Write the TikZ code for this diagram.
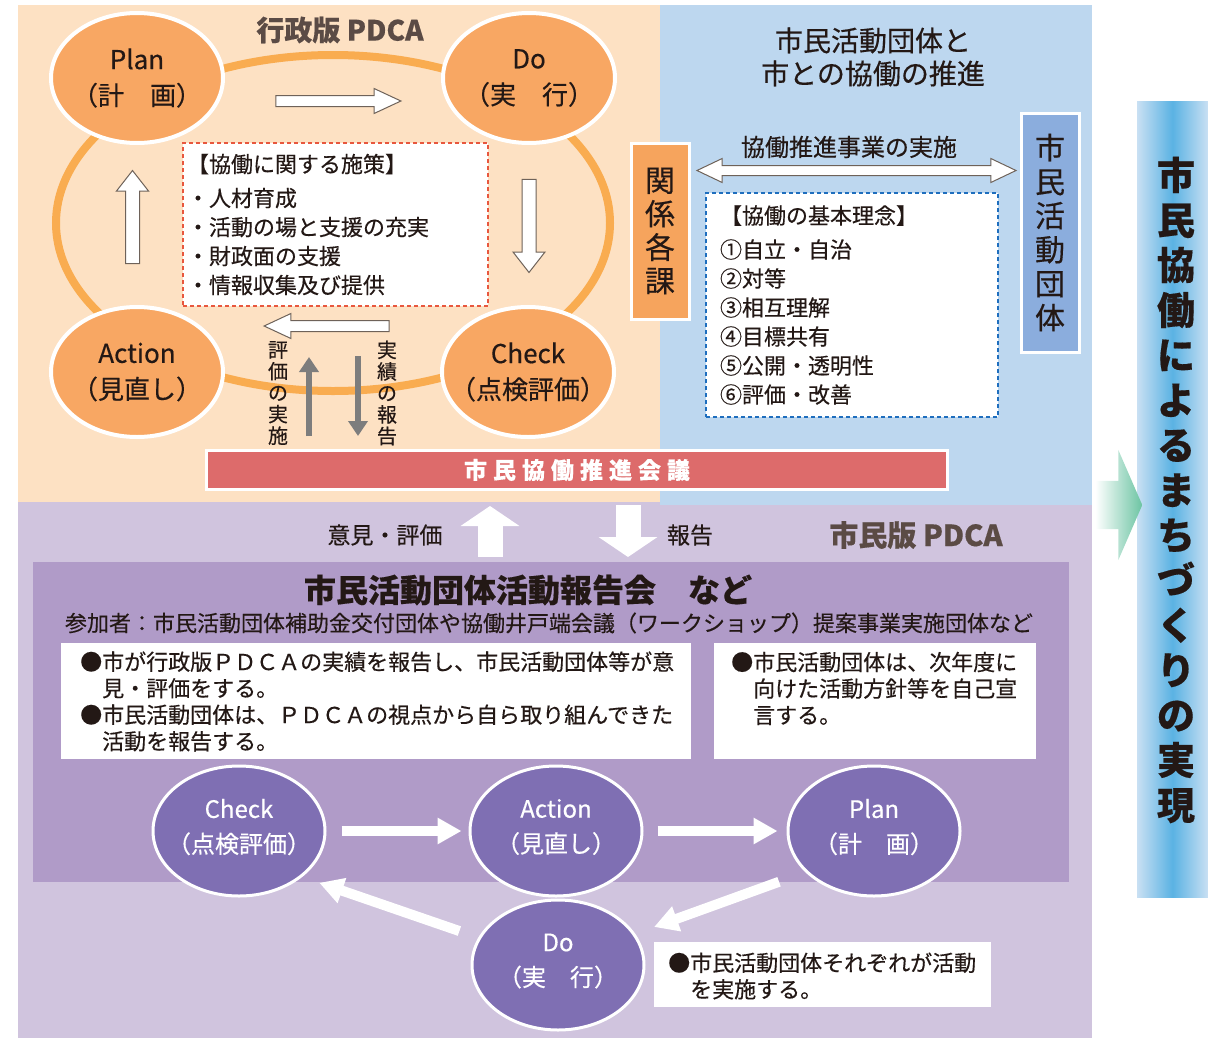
\documentclass[tikz,border=0pt]{standalone}
\usepackage{fontspec}
\setmainfont{Noto Sans CJK JP}[FakeBold=0.4]
\usetikzlibrary{shapes.geometric,shapes.arrows,arrows.meta}

\definecolor{peach}{HTML}{FDE1C3}
\definecolor{skyblue}{HTML}{BDD7EF}
\definecolor{lavender}{HTML}{D0C4DE}
\definecolor{purplebox}{HTML}{B09BC8}
\definecolor{purplenode}{HTML}{7F6FB3}
\definecolor{orangenode}{HTML}{F8A763}
\definecolor{ringorange}{HTML}{F9AC50}
\definecolor{redbar}{HTML}{DD6B6B}
\definecolor{kankei}{HTML}{F6A45D}
\definecolor{dantaiblue}{HTML}{8BADDD}
\definecolor{barblue}{HTML}{5AB2E3}
\definecolor{barlight}{HTML}{C9E0F3}
\definecolor{tealarrow}{HTML}{6CC4A3}
\definecolor{arrowgray}{HTML}{7D7D7D}
\definecolor{arrowline}{HTML}{6E6259}
\definecolor{reddash}{HTML}{E8573E}
\definecolor{bluedash}{HTML}{1E6EBE}
\definecolor{ink}{HTML}{231815}
\definecolor{titleink}{HTML}{5B4B45}

\newcommand{\barsp}{\hspace{6pt}}

\begin{document}
\begin{tikzpicture}[x=1pt,y=-1pt,text=ink]
	\def \toprow{78}
	\def \lowrow{372}
	\def \cyclerow{831}
	\tikzstyle{o-node}=[ellipse,draw=white,line width=4,fill=orangenode,minimum width=172,minimum height=130,inner sep=0pt]
	\tikzstyle{p-node}=[ellipse,draw=white,line width=3,fill=purplenode,minimum width=172,minimum height=130,inner sep=0pt]
	\tikzstyle{o-text}=[align=center,font=\fontsize{26}{36}\selectfont]
	\tikzstyle{p-text}=[align=center,text=white,font=\fontsize{24}{35}\selectfont]
	\tikzstyle{hollow}=[single arrow,draw=arrowline,fill=white,line width=1,inner sep=5pt,minimum width=24,single arrow head extend=7,single arrow tip angle=50]
	\tikzstyle{hollow-v}=[single arrow,draw=arrowline,fill=white,line width=1,inner sep=6.5pt,minimum width=31,single arrow head extend=9,single arrow tip angle=76]
	\tikzstyle{grayarrow}=[draw=arrowgray,line width=6,-{Triangle[length=15pt,width=19pt]}]
	\tikzstyle{bigarrow}=[draw=white,line width=25,-{Triangle[length=20pt,width=58pt]}]
	\tikzstyle{flowarrow}=[draw=white,line width=10,-{Triangle[length=24pt,width=25pt]}]
	\tikzstyle{notebox}=[fill=white,inner sep=0pt]
	\tikzstyle{note}=[anchor=west,align=left,inner sep=0pt,font=\fontsize{22}{26.5}\selectfont]
	\tikzstyle{vtext}=[align=center,inner sep=0pt]
	\tikzstyle{dashbox}=[dash pattern=on 4pt off 3pt,line width=1.5,fill=white,align=left,font=\fontsize{22}{29}\selectfont]

	\useasboundingbox (0,0) rectangle (1208,1039);

	% backgrounds
	\fill[lavender] (18,502) rectangle (1092,1038);
	\fill[peach] (18,5) rectangle (660,502);
	\fill[skyblue] (660,5) rectangle (1092,505);

	% administration PDCA
	\draw[ringorange,line width=8] (333,223) ellipse [x radius=277,y radius=168];
	\node[font=\fontsize{28}{30}\selectfont\bfseries,text=titleink] (gyosei) at (340,30) {行政版 PDCA};

	\node[o-node] (plan) at (137,\toprow) {};
	\node[o-node] (do) at (529,\toprow) {};
	\node[o-node] (action) at (137,\lowrow) {};
	\node[o-node] (check) at (528,\lowrow) {};
	\node[o-text] (plan-t) at (plan) {Plan\\（計　画）};
	\node[o-text] (do-t) at (do) {Do\\（実　行）};
	\node[o-text] (action-t) at (action) {Action\\（見直し）};
	\node[o-text] (check-t) at (check) {Check\\（点検評価）};

	\node[hollow,minimum height=125] (plan-do) at (332.5,101) {};
	\node[hollow-v,minimum height=93,shape border rotate=270] (do-check) at (529,221.5) {};
	\node[hollow,minimum height=125,shape border rotate=180] (check-action) at (332.5,326) {};
	\node[hollow-v,minimum height=93,shape border rotate=90] (action-plan) at (132.5,221.5) {};

	\node[dashbox,draw=reddash,minimum height=163,text width=297,inner xsep=4] (shisaku) at (335.5,224.5) {【協働に関する施策】\\[5pt]・人材育成\\・活動の場と支援の充実\\・財政面の支援\\・情報収集及び提供};

	\coordinate (eval-foot) at (309,436);
	\coordinate (eval-tip) at (309,357);
	\coordinate (report-foot) at (358,356);
	\coordinate (report-tip) at (358,436);
	\draw[grayarrow] (eval-foot) -- (eval-tip);
	\draw[grayarrow] (report-foot) -- (report-tip);
	\node[vtext,font=\fontsize{20}{21.5}\selectfont] (eval-l) at (278,393) {評\\価\\の\\実\\施};
	\node[vtext,font=\fontsize{20}{21.5}\selectfont] (report-l) at (387,393) {実\\績\\の\\報\\告};

	\node[draw=white,line width=3,fill=redbar,minimum width=741,minimum height=39,inner sep=0pt,text=white,font=\fontsize{23}{25}\selectfont\bfseries] (kaigi) at (577,470) {市\barsp 民\barsp 協\barsp 働\barsp 推\barsp 進\barsp 会\barsp 議};

	% cooperation
	\node[align=center,font=\fontsize{28}{33}\selectfont] (suishin) at (873,57) {市民活動団体と\\市との協働の推進};
	\node[draw=white,line width=3,fill=kankei,minimum width=58,minimum height=176,inner sep=0pt,align=center,font=\fontsize{30}{33.5}\selectfont] (kankei) at (660,231) {関\\係\\各\\課};
	\node[draw=white,line width=3,fill=dantaiblue,minimum width=58,minimum height=239,inner sep=0pt,align=center,font=\fontsize{30}{34}\selectfont] (dantai) at (1050,232.5) {市\\民\\活\\動\\団\\体};
	\node[double arrow,draw=arrowline,fill=white,line width=1,inner sep=4.5pt,minimum width=23,minimum height=319,double arrow head extend=7,double arrow tip angle=51] (kyodo) at (856.5,170.5) {};
	\node[font=\fontsize{24}{26}\selectfont] (kyodo-l) at (849,147) {協働推進事業の実施};
	\node[dashbox,draw=bluedash,minimum height=224,text width=264,inner xsep=14] (rinen) at (852,305) {【協働の基本理念】\\[5pt]①自立・自治\\②対等\\③相互理解\\④目標共有\\⑤公開・透明性\\⑥評価・改善};

	% result
	\node[minimum width=71,minimum height=796,inner sep=0pt,left color=barlight,right color=barlight,middle color=barblue] (goal) at (1172.5,499) {};
	\node[vtext,font=\fontsize{38}{45}\selectfont\bfseries] (goal-t) at (1176,490) {市\\民\\協\\働\\に\\よ\\る\\ま\\ち\\づ\\く\\り\\の\\実\\現};
	\node[single arrow,inner xsep=0pt,inner ysep=24pt,minimum width=110,minimum height=47,single arrow head extend=31,single arrow tip angle=133,left color=white,right color=tealarrow] (to-goal) at (1113.5,505) {};

	% citizen PDCA
	\node[fill=purplebox,minimum width=1036,minimum height=320,inner sep=0pt] (hokokukai) at (551,722) {};
	\coordinate (iken-foot) at (490,557);
	\coordinate (iken-tip) at (490,506);
	\coordinate (hokoku-foot) at (628,505);
	\coordinate (hokoku-tip) at (628,557);
	\draw[bigarrow] (iken-foot) -- (iken-tip);
	\draw[bigarrow] (hokoku-foot) -- (hokoku-tip);
	\node[font=\fontsize{23}{25}\selectfont] (iken-l) at (385,535) {意見・評価};
	\node[font=\fontsize{23}{25}\selectfont] (hokoku-l) at (690,535) {報告};
	\node[font=\fontsize{29}{31}\selectfont\bfseries,text=titleink] (shimin) at (916,535) {市民版 PDCA};
	\node[font=\fontsize{32}{34}\selectfont\bfseries] (hokokukai-t) at (528,590) {市民活動団体活動報告会　など};
	\node[font=\fontsize{22}{24}\selectfont] (sanka) at (549,623) {参加者：市民活動団体補助金交付団体や協働井戸端会議（ワークショップ）提案事業実施団体など};

	\node[notebox,minimum width=630,minimum height=116] (kekka) at (376,701) {};
	\node[note] (kekka-t) at (80,701.5) {●市が行政版ＰＤＣＡの実績を報告し、市民活動団体等が意\\\hspace*{1em}見・評価をする。\\●市民活動団体は、ＰＤＣＡの視点から自ら取り組んできた\\\hspace*{1em}活動を報告する。};
	\node[notebox,minimum width=322,minimum height=116] (hoshin) at (875,701) {};
	\node[note] (hoshin-t) at (731,688.5) {●市民活動団体は、次年度に\\\hspace*{1em}向けた活動方針等を自己宣\\\hspace*{1em}言する。};
	\node[notebox,minimum width=337,minimum height=65] (katsudo) at (822.5,974.5) {};
	\node[note] (katsudo-t) at (668,976) {●市民活動団体それぞれが活動\\\hspace*{1em}を実施する。};

	\node[p-node] (check2) at (239,\cyclerow) {};
	\node[p-node] (action2) at (556,\cyclerow) {};
	\node[p-node] (plan2) at (874,\cyclerow) {};
	\node[p-node] (do2) at (558,965) {};
	\node[p-text] (check2-t) at (239,827) {Check\\（点検評価）};
	\node[p-text] (action2-t) at (556,827) {Action\\（見直し）};
	\node[p-text] (plan2-t) at (874,827) {Plan\\（計　画）};
	\node[p-text] (do2-t) at (558,961) {Do\\（実　行）};

	\path
		(check2)	edge[flowarrow,shorten <=15pt,shorten >=7pt]	(action2)
		(action2)	edge[flowarrow,shorten <=14pt,shorten >=9pt]	(plan2)
		(plan2.211)	edge[flowarrow,shorten <=28pt,shorten >=20pt]	(do2.22)
		(do2.161)	edge[flowarrow,shorten <=20pt,shorten >=18pt]	(check2.324);
\end{tikzpicture}
\end{document}
